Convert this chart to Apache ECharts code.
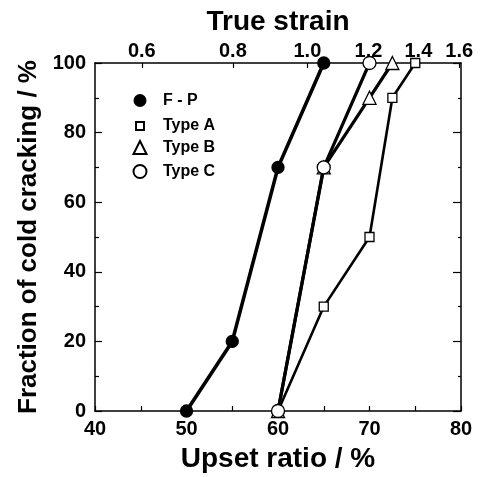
<!DOCTYPE html>
<html><head><meta charset="utf-8">
<script src="https://cdn.jsdelivr.net/npm/echarts@6/dist/echarts.min.js"></script>
<style>html,body{margin:0;padding:0;background:#fff}#c{width:485px;height:477px}</style>
</head><body><div id="c"></div>
<script>
// Data (upset ratio %, fraction of cold cracking %)
const fpX = [50, 55, 60, 65];
const fpY = [0, 20, 70, 100];
const typeAX = [60, 65, 70, 72.5, 75];
const typeAY = [0, 30, 50, 90, 100];
const typeBX = [60, 65, 70, 72.5];
const typeBY = [0, 70, 90, 100];
const typeCX = [60, 65, 70];
const typeCY = [0, 70, 100];
const strainTicks = [0.6, 0.8, 1.0, 1.2, 1.4, 1.6];
const seriesNames = ['F - P', 'Type A', 'Type B', 'Type C'];

const FONT = '"Liberation Sans", Arial, Helvetica, sans-serif';
const pair = (xs, ys) => xs.map((x, i) => [x, ys[i]]);
const strainToUpset = s => 100 * (1 - Math.exp(-s));
const upsetToStrain = u => -Math.log(1 - u / 100);

const chart = echarts.init(document.getElementById('c'), null, {renderer: 'canvas'});
const axisLine = {show: true, onZero: false, lineStyle: {color: '#000', width: 1.5}};
const lbl = {color: '#000', fontFamily: FONT, fontWeight: 'bold', fontSize: 20};
const nameStyle = {color: '#000', fontFamily: FONT, fontWeight: 'bold', fontSize: 28};

function mkSeries(name, data, symbol, size, fill, lw) {
  return {
    name, type: 'line', data, symbol, symbolSize: size, clip: false,
    lineStyle: {color: '#000', width: lw},
    itemStyle: {color: fill, borderColor: '#000', borderWidth: 1.3},
    emphasis: {disabled: true}, z: 3
  };
}
function mkLegend(name, icon, size, top) {
  return {
    data: [{name, icon}], left: 139 - size / 2, top: top - size / 2,
    itemWidth: size, itemHeight: size, itemGap: 0, padding: 0,
    selectedMode: false,
    textStyle: {color: '#000', fontFamily: FONT, fontWeight: 'bold', fontSize: 16,
      padding: [0, 0, 0, 162 - 139 - size / 2 - 5]}
  };
}

chart.setOption({
  animation: false,
  backgroundColor: '#fff',
  grid: {left: 95, right: 24, top: 63, bottom: 66, outerBoundsMode: 'none', containLabel: false},
  legend: [
    mkLegend(seriesNames[0], 'circle', 11, 98),
    mkLegend(seriesNames[1], 'rect', 8, 122),
    mkLegend(seriesNames[2], 'triangle', 13, 146),
    mkLegend(seriesNames[3], 'circle', 13, 170)
  ],
  xAxis: [
    {
      type: 'value', position: 'bottom', min: 40, max: 80, interval: 10,
      name: 'Upset ratio / %', nameLocation: 'middle', nameGap: 34, nameTextStyle: nameStyle,
      axisLine, splitLine: {show: false},
      axisTick: {show: true, inside: true, length: 5, lineStyle: {color: '#000', width: 1.2}},
      minorTick: {show: true, splitNumber: 2, length: 5, lineStyle: {color: '#000', width: 1.2}},
      axisLabel: {...lbl, margin: 8}
    },
    {
      type: 'value', position: 'top', min: 40, max: 80,
      name: 'True strain', nameLocation: 'middle', nameGap: 26, nameTextStyle: nameStyle,
      axisLine, splitLine: {show: false},
      axisTick: {show: true, inside: true, length: 5, customValues: strainTicks.map(strainToUpset), lineStyle: {color: '#000', width: 1.2}},
      axisLabel: {...lbl, margin: 2, customValues: strainTicks.map(strainToUpset),
        formatter: v => upsetToStrain(v).toFixed(1)}
    }
  ],
  yAxis: [
    {
      type: 'value', position: 'left', min: 0, max: 100, interval: 20,
      name: 'Fraction of cold cracking / %', nameLocation: 'middle', nameGap: 49,
      nameTextStyle: {...nameStyle, fontSize: 26},
      axisLine, splitLine: {show: false},
      axisTick: {show: true, inside: true, length: 7, lineStyle: {color: '#000', width: 1.2}},
      minorTick: {show: true, splitNumber: 2, length: 4, lineStyle: {color: '#000', width: 1.2}},
      axisLabel: {...lbl, margin: 9}
    },
    {
      type: 'value', position: 'right', min: 0, max: 100, interval: 20,
      axisLine, splitLine: {show: false},
      axisTick: {show: true, inside: true, length: 8, lineStyle: {color: '#000', width: 1.2}},
      minorTick: {show: true, splitNumber: 2, length: 3, lineStyle: {color: '#000', width: 1.2}},
      axisLabel: {show: false}
    }
  ],
  series: [
    mkSeries(seriesNames[1], pair(typeAX, typeAY), 'rect', 9, '#fff', 2.6),
    mkSeries(seriesNames[2], pair(typeBX, typeBY), 'triangle', 13, '#fff', 3.2),
    mkSeries(seriesNames[3], pair(typeCX, typeCY), 'circle', 13, '#fff', 3.2),
    mkSeries(seriesNames[0], pair(fpX, fpY), 'circle', 12, '#000', 3.6)
  ]
});
</script></body></html>
